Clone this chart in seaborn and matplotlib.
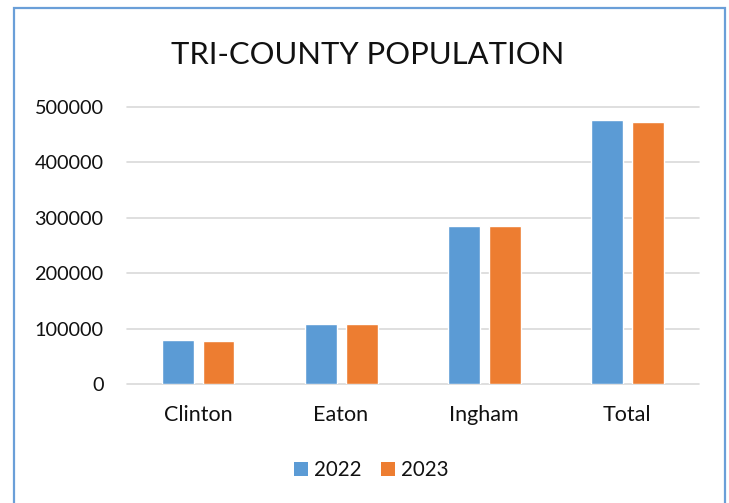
import matplotlib
matplotlib.use("Agg")
import matplotlib.pyplot as plt
from matplotlib.patches import Rectangle, Patch
import seaborn as sns
import pandas as pd

counties = ["Clinton", "Eaton", "Ingham", "Total"]
years = ["2022", "2023"]
pop_2022 = [79800, 109200, 285700, 475500]
pop_2023 = [78600, 108600, 284500, 472400]
yticks = [0, 100000, 200000, 300000, 400000, 500000]
colors = ["#5B9BD5", "#ED7D31"]

df = pd.DataFrame({
    "County": counties * 2,
    "Year": [years[0]] * len(counties) + [years[1]] * len(counties),
    "Population": pop_2022 + pop_2023,
})

sns.set_theme(style="white")
plt.rcParams["font.family"] = ["Lato", "DejaVu Sans"]

W, H = 729, 503
fig = plt.figure(figsize=(W / 100, H / 100), dpi=100)
fig.patch.set_facecolor("white")

left, right, top, bottom = 126.5, 698.6, 106.7, 384.3
ax = fig.add_axes([left / W, 1 - bottom / H, (right - left) / W, (bottom - top) / H])

sns.barplot(data=df, x="County", y="Population", hue="Year", order=counties,
            hue_order=years, palette=colors, width=0.573, gap=0.22,
            saturation=1, errorbar=None, ax=ax, legend=False, zorder=3)

ax.set_ylim(0, 500000)
ax.set_yticks(yticks)
ax.set_yticklabels([str(v) for v in yticks])
ax.set_xlabel("")
ax.set_ylabel("")
for s in ax.spines.values():
    s.set_visible(False)
ax.grid(axis="y", color="#D9D9D9", linewidth=1.2, zorder=0)
ax.grid(axis="x", visible=False)
for gl in ax.get_ygridlines():
    gl.set_clip_on(False)
ax.tick_params(axis="y", length=0, pad=16.5, labelsize=14.3, labelcolor="#111111")
ax.tick_params(axis="x", length=0, pad=15, labelsize=15.5, labelcolor="#111111")

fig.text(367.7 / W, 1 - 64 / H, "TRI-COUNTY POPULATION", ha="center",
         va="baseline", fontsize=22.3, color="#111111")

handles = [Patch(facecolor=c, edgecolor="none", label=y) for c, y in zip(colors, years)]
fig.legend(handles=handles, loc="center", bbox_to_anchor=(371.5 / W, 1 - 470 / H),
           ncol=2, frameon=False, fontsize=14.8, handlelength=0.68, handleheight=0.68,
           handletextpad=0.3, columnspacing=0.93, labelcolor="#111111")

fig.patches.append(Rectangle((13.7 / W, -0.05), (724.5 - 13.7) / W, 1.05 - 8.5 / H,
                             transform=fig.transFigure, fill=False,
                             edgecolor="#6A9FD8", linewidth=1.6))

fig.savefig("out.png", dpi=100)
